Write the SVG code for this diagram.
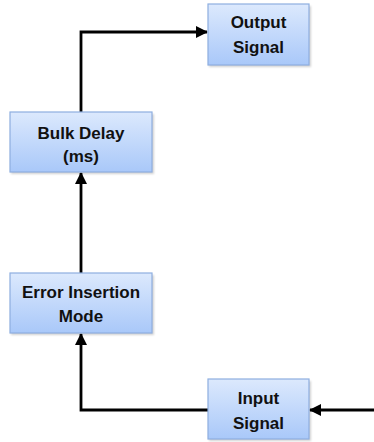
<svg xmlns="http://www.w3.org/2000/svg" width="374" height="442" viewBox="0 0 374 442">
  <style>
    .box { fill: url(#boxFill); stroke: #8eaee0; stroke-width: 1.2; }
    .shadow { fill: #000; opacity: 0.18; }
    .label { font-family: "Liberation Sans", Arial, sans-serif; font-weight: bold; font-size: 17px; fill: #111; text-anchor: middle; }
    .wire { fill: none; stroke: #000; stroke-width: 2.8; stroke-linejoin: miter; }
  </style>
  <defs>
    <linearGradient id="boxFill" x1="0" y1="0" x2="0" y2="1">
      <stop offset="0" stop-color="#dce9fd"/>
      <stop offset="1" stop-color="#a9c8f9"/>
    </linearGradient>
    <filter id="soft" x="-10%" y="-10%" width="120%" height="130%">
      <feGaussianBlur stdDeviation="1"/>
    </filter>
    <marker id="arrow" viewBox="0 0 12 12" refX="11" refY="6" markerWidth="12" markerHeight="12" markerUnits="userSpaceOnUse" orient="auto">
      <path d="M0,0 L12,6 L0,12 Z" fill="#000"/>
    </marker>
  </defs>

  <!-- connectors -->
  <g id="connectors">
    <line class="wire" x1="374" y1="410" x2="310" y2="410" marker-end="url(#arrow)"/>
    <polyline class="wire" points="208,410 81,410 81,334" marker-end="url(#arrow)"/>
    <line class="wire" x1="81" y1="273" x2="81" y2="173" marker-end="url(#arrow)"/>
    <polyline class="wire" points="81,112 81,32 207,32" marker-end="url(#arrow)"/>
  </g>

  <g id="output-signal">
    <rect class="shadow" x="209" y="6" width="102" height="61" filter="url(#soft)"/>
    <rect class="box" x="208" y="4" width="101" height="61"/>
    <text class="label" x="258.5" y="28">Output</text>
    <text class="label" x="258.5" y="53">Signal</text>
  </g>

  <g id="bulk-delay">
    <rect class="shadow" x="11" y="114" width="143" height="60" filter="url(#soft)"/>
    <rect class="box" x="10" y="112" width="142" height="60"/>
    <text class="label" x="81" y="139">Bulk Delay</text>
    <text class="label" x="81" y="162">(ms)</text>
  </g>

  <g id="error-insertion-mode">
    <rect class="shadow" x="11" y="275" width="143" height="60" filter="url(#soft)"/>
    <rect class="box" x="10" y="273" width="142" height="60"/>
    <text class="label" x="81" y="298">Error Insertion</text>
    <text class="label" x="81" y="322">Mode</text>
  </g>

  <g id="input-signal">
    <rect class="shadow" x="209" y="381" width="102" height="60" filter="url(#soft)"/>
    <rect class="box" x="208" y="379" width="101" height="60"/>
    <text class="label" x="258.5" y="404">Input</text>
    <text class="label" x="258.5" y="429">Signal</text>
  </g>
</svg>
